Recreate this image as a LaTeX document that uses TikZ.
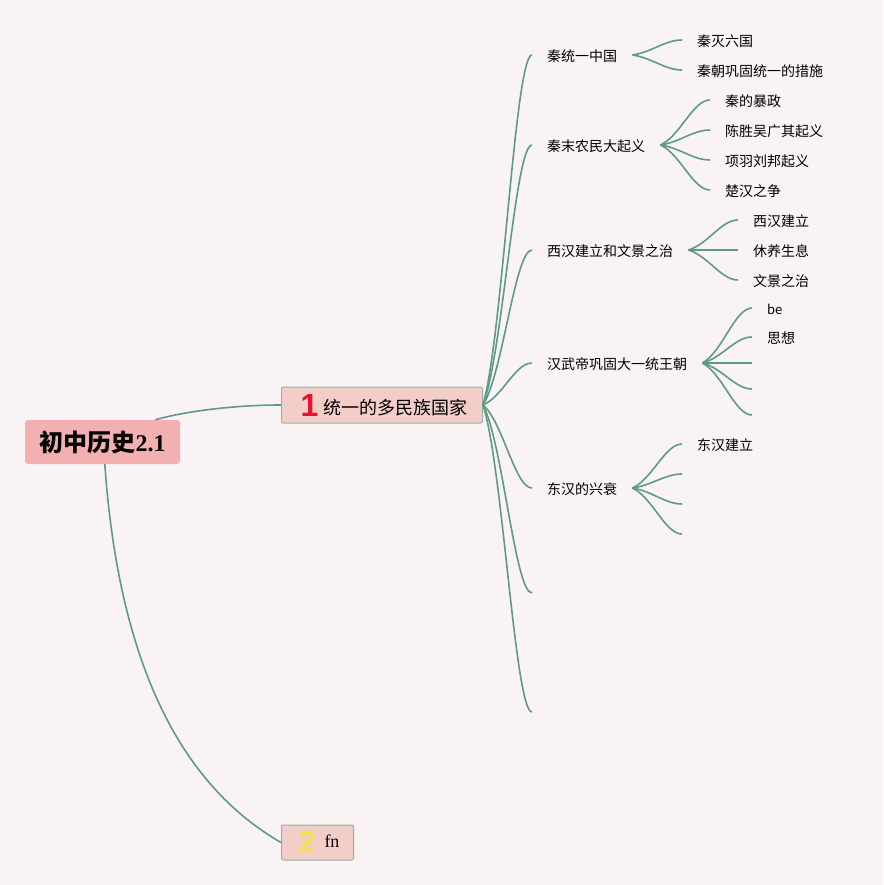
\documentclass[tikz,border=0pt]{standalone}
\usepackage{fontspec}
\setmainfont{Noto Sans CJK SC}
\newfontfamily\serifl{Liberation Serif}
\newfontfamily\markf{Liberation Sans}
\usetikzlibrary{calc}
\definecolor{bgc}{HTML}{FAF3F5}
\definecolor{linec}{HTML}{5E9B86}
\definecolor{rootc}{HTML}{F2B1B0}
\definecolor{mainc}{HTML}{F3CDC8}
\definecolor{mainb}{HTML}{94AFA3}
\definecolor{onec}{HTML}{E2172D}
\definecolor{twoc}{HTML}{F3E04E}
\newcommand\fanline[2]{\draw[branch] (#1) .. controls ($(#1)!0.2!(#2)+(10,0)$) and ($(#2)+(-17,0)$) .. (#2);}
\tikzset{
  branch/.style={draw=linec, line width=1.6pt},
  topic/.style={font=\fontsize{14}{14}\selectfont, inner xsep=15pt, inner ysep=0pt, text height=13.4pt, text depth=0.6pt, anchor=west},
  mainbox/.style={draw=mainb, fill=mainc, line width=1pt, rounded corners=2pt, inner sep=0pt, anchor=west},
  rootbox/.style={fill=rootc, rounded corners=3pt, inner sep=0pt, minimum width=155pt, minimum height=44pt}
}
\begin{document}
\begin{tikzpicture}[x=1pt,y=-1pt]
\fill[bgc] (0,0) rectangle (883,885);
\useasboundingbox (0,0) rectangle (883,885);

\node[rootbox] (root) at (102.5,442) {\bfseries\fontsize{24}{24}\selectfont 初中历史{\serifl\bfseries 2.1}};
\node[mainbox, minimum width=201pt, minimum height=36pt] (main) at (281,405)
  {\hspace*{19pt}\makebox[23pt][l]{\markf\bfseries\fontsize{32}{32}\selectfont\color{onec}1}\makebox[159pt][l]{\raisebox{2pt}{\fontsize{18}{18}\selectfont 统一的多民族国家}}};
\node[mainbox, minimum width=72pt, minimum height=35pt] (fn) at (281,842.5)
  {\hspace*{17pt}\makebox[26pt][l]{\markf\bfseries\fontsize{30}{30}\selectfont\color{twoc}2}\makebox[29pt][l]{\raisebox{5pt}{\serifl\fontsize{18}{18}\selectfont fn}}};

\draw[branch] ($(root.north east)+(-25,0)$) .. controls (190,410) and (240,405) .. (main.west);
\draw[branch] ($(root.south west)+(80,0)$) .. controls (120,680) and (190,790) .. (fn.west);

% level 2
\node[topic] (c1) at (532,55) {秦统一中国};
\node[topic] (c2) at (532,145) {秦末农民大起义};
\node[topic] (c3) at (532,250) {西汉建立和文景之治};
\node[topic] (c4) at (532,363) {汉武帝巩固大一统王朝};
\node[topic] (c5) at (532,488) {东汉的兴衰};
\coordinate (c6) at (532,593);
\coordinate (c7) at (532,712);

\fanline{main.east}{c1.west}
\fanline{main.east}{c2.west}
\fanline{main.east}{c3.west}
\fanline{main.east}{c4.west}
\fanline{main.east}{c5.west}
\fanline{main.east}{c6}
\fanline{main.east}{c7}

% level 3
\node[topic] (g11) at (682,40) {秦灭六国};
\node[topic] (g12) at (682,70) {秦朝巩固统一的措施};
\fanline{c1.east}{g11.west}
\fanline{c1.east}{g12.west}

\node[topic] (g21) at (710,100) {秦的暴政};
\node[topic] (g22) at (710,130) {陈胜吴广其起义};
\node[topic] (g23) at (710,160) {项羽刘邦起义};
\node[topic] (g24) at (710,190) {楚汉之争};
\fanline{c2.east}{g21.west}
\fanline{c2.east}{g22.west}
\fanline{c2.east}{g23.west}
\fanline{c2.east}{g24.west}

\node[topic] (g31) at (738,220) {西汉建立};
\node[topic] (g32) at (738,250) {休养生息};
\node[topic] (g33) at (738,280) {文景之治};
\fanline{c3.east}{g31.west}
\fanline{c3.east}{g32.west}
\fanline{c3.east}{g33.west}

\node[topic, font=\fontsize{13}{13}\selectfont] (g41) at (752,308) {be};
\node[topic] (g42) at (752,337) {思想};
\coordinate (g43) at (752,363);
\coordinate (g44) at (752,389);
\coordinate (g45) at (752,415);
\fanline{c4.east}{g41.west}
\fanline{c4.east}{g42.west}
\fanline{c4.east}{g43}
\fanline{c4.east}{g44}
\fanline{c4.east}{g45}

\node[topic] (g51) at (682,444) {东汉建立};
\coordinate (g52) at (682,474);
\coordinate (g53) at (682,504);
\coordinate (g54) at (682,534);
\fanline{c5.east}{g51.west}
\fanline{c5.east}{g52}
\fanline{c5.east}{g53}
\fanline{c5.east}{g54}
\end{tikzpicture}
\end{document}
